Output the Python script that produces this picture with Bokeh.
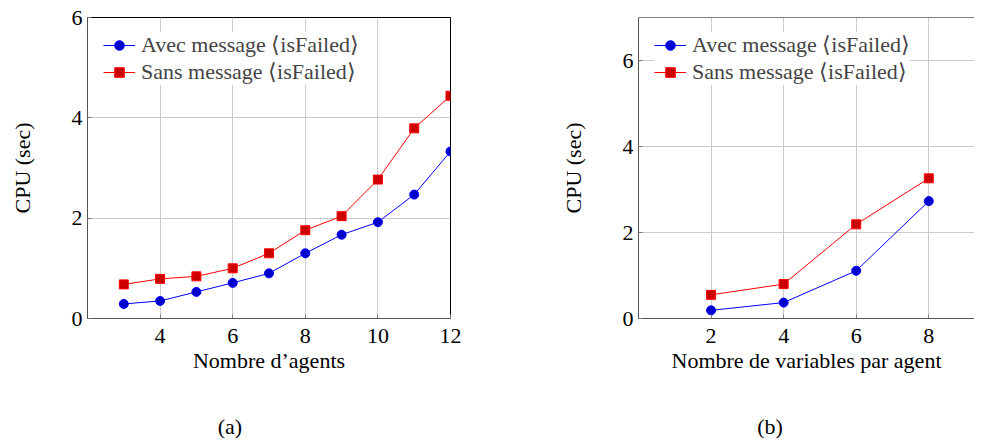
from bokeh.plotting import figure
from bokeh.layouts import row, column
from bokeh.models import Range1d, FixedTicker, Legend, LegendItem, Span, Div, Spacer
from bokeh.embed import file_html
from bokeh.resources import INLINE

# ---- data ----
agents = [3, 4, 5, 6, 7, 8, 9, 10, 11, 12]
avec_a = [0.29, 0.35, 0.53, 0.71, 0.90, 1.30, 1.67, 1.92, 2.47, 3.33]
sans_a = [0.68, 0.79, 0.84, 1.00, 1.30, 1.76, 2.04, 2.77, 3.79, 4.44]

variables = [2, 4, 6, 8]
avec_b = [0.19, 0.37, 1.11, 2.73]
sans_b = [0.55, 0.80, 2.19, 3.26]

xticks_a = [4, 6, 8, 10, 12]
yticks_a = [0, 2, 4, 6]
xticks_b = [2, 4, 6, 8]
yticks_b = [0, 2, 4, 6]

label_avec = "Avec message \u27e8isFailed\u27e9"
label_sans = "Sans message \u27e8isFailed\u27e9"
captions = ["(a)", "(b)"]

FONT = "Liberation Serif"
FS = "22px"
H = 410
TOP = 17
FRAME_BOTTOM = 318


def style_axis(ax, ticks, standoff):
    ax.ticker = FixedTicker(ticks=ticks)
    ax.major_tick_in = 4
    ax.major_tick_out = 0
    ax.major_tick_line_color = "#777777"
    ax.minor_tick_line_color = None
    ax.axis_line_color = "#555555"
    ax.major_label_text_font = FONT
    ax.major_label_text_font_size = FS
    ax.major_label_text_color = "black"
    ax.major_label_standoff = standoff
    ax.axis_label_text_font = FONT
    ax.axis_label_text_font_size = FS
    ax.axis_label_text_font_style = "normal"
    ax.axis_label_text_color = "black"


def make_fig(width, bl, br, xr, yr, xs, ya, ys, xticks, yticks, xlabel, full_frame):
    p = figure(width=width, height=H, x_range=Range1d(*xr), y_range=Range1d(*yr),
               output_backend="svg", toolbar_location=None, title=None,
               min_border_left=bl, min_border_right=br, min_border_top=TOP,
               min_border_bottom=H - FRAME_BOTTOM)
    p.background_fill_color = "white"
    p.border_fill_color = "white"
    style_axis(p.xaxis[0], xticks, 10)
    style_axis(p.yaxis[0], yticks, 5)
    p.xaxis.axis_label = xlabel
    p.yaxis.axis_label = "CPU (sec)"
    p.xaxis.axis_label_standoff = 2
    p.yaxis.axis_label_standoff = 34
    p.xgrid.ticker = FixedTicker(ticks=xticks)
    p.ygrid.ticker = FixedTicker(ticks=yticks)
    p.grid.grid_line_color = "#cccccc"
    p.grid.grid_line_width = 1

    if full_frame:
        p.outline_line_color = "black"
    else:
        p.outline_line_color = None
        p.add_layout(Span(location=yr[1], dimension="width", line_color="black", line_width=1))

    l1 = p.line(xs, ya, line_color="#0000ff", line_width=1)
    s1 = p.scatter(xs, ya, marker="circle", size=9, fill_color="#0000cc", line_color="#0000ff")
    l2 = p.line(xs, ys, line_color="#ff0000", line_width=1)
    s2 = p.scatter(xs, ys, marker="square", size=9, fill_color="#cc0000", line_color="#ff0000")

    legend = Legend(items=[LegendItem(label=label_avec, renderers=[l1, s1]),
                           LegendItem(label=label_sans, renderers=[l2, s2])],
                    location=(16, 233), margin=0, padding=5, spacing=1,
                    glyph_width=32, glyph_height=24, label_standoff=6,
                    label_text_font=FONT, label_text_font_size=FS,
                    border_line_color=None, background_fill_color="white",
                    background_fill_alpha=1.0)
    p.add_layout(legend)
    return p


fa = make_fig(500, 87, 50, (2, 12), (0, 6), agents, avec_a, sans_a,
              xticks_a, yticks_a, "Nombre d\u2019agents", True)
fb = make_fig(474, 138, 0, (0, 9.26), (0, 7), variables, avec_b, sans_b,
              xticks_b, yticks_b, "Nombre de variables par agent", False)

cap_style = {"font-family": "'Liberation Serif', serif", "font-size": "22px",
             "text-align": "center", "line-height": "24px", "color": "black"}
cap_a = Div(text=captions[0], width=40, height=27, styles=cap_style)
cap_b = Div(text=captions[1], width=40, height=27, styles=cap_style)
cap_row = row(Spacer(width=205, height=27), cap_a, Spacer(width=490, height=27), cap_b)

layout = column(row(fa, fb), cap_row)
open("out.html", "w").write(file_html(layout, INLINE))
